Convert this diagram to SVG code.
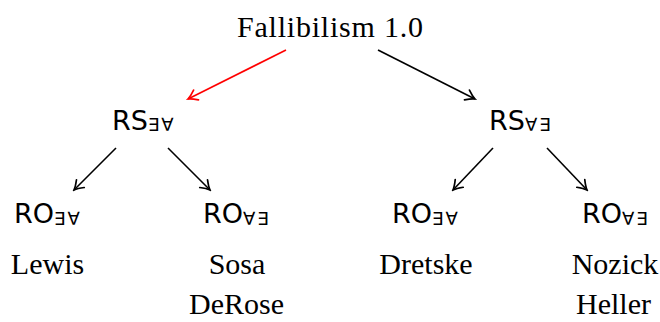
<svg xmlns="http://www.w3.org/2000/svg" width="660" height="322" viewBox="0 0 660 322">
  <style>
    .serif { font-family: "Liberation Serif", "DejaVu Serif", serif; font-size: 30px; fill: #000; }
    .sans { font-family: "DejaVu Sans", "Liberation Sans", sans-serif; font-size: 27px; fill: #000; }
    .sub { font-size: 18px; letter-spacing: 2px; }
    .edge { stroke: #000; stroke-width: 1.6; fill: none; marker-end: url(#arrow); }
    .edge.red { stroke: #ff0000; marker-end: url(#arrowRed); }
  </style>
  <defs>
    <marker id="arrow" markerUnits="userSpaceOnUse" viewBox="-11 -7 13 14" refX="0" refY="0" markerWidth="13" markerHeight="14" orient="auto">
      <path d="M-9,-5.5 Q-3.5,-1.3 0,0 Q-3.5,1.3 -9,5.5" fill="none" stroke="#000" stroke-width="1.7" stroke-linecap="round"/>
    </marker>
    <marker id="arrowRed" markerUnits="userSpaceOnUse" viewBox="-11 -7 13 14" refX="0" refY="0" markerWidth="13" markerHeight="14" orient="auto">
      <path d="M-9,-5.5 Q-3.5,-1.3 0,0 Q-3.5,1.3 -9,5.5" fill="none" stroke="#ff0000" stroke-width="1.7" stroke-linecap="round"/>
    </marker>
  </defs>

  <g id="connectors">
    <line class="edge red" x1="286" y1="50" x2="188" y2="99"/>
    <line class="edge" x1="378" y1="50" x2="475" y2="99"/>
    <line class="edge" x1="116" y1="148" x2="74" y2="190"/>
    <line class="edge" x1="168" y1="148" x2="210" y2="190"/>
    <line class="edge" x1="493" y1="148" x2="453" y2="190"/>
    <line class="edge" x1="547" y1="148" x2="587" y2="190"/>
  </g>

  <g id="root">
    <text class="serif" x="330" y="37" text-anchor="middle" textLength="186">Fallibilism 1.0</text>
  </g>

  <g id="rs-ea">
    <text class="sans" x="112" y="130">RS<tspan class="sub" dy="1">∃∀</tspan></text>
  </g>
  <g id="rs-ae">
    <text class="sans" x="489" y="130">RS<tspan class="sub" dy="1">∀∃</tspan></text>
  </g>

  <g id="ro-lewis">
    <text class="sans" x="14" y="223">RO<tspan class="sub" dy="2">∃∀</tspan></text>
    <text class="serif" x="47.5" y="274" text-anchor="middle">Lewis</text>
  </g>
  <g id="ro-sosa">
    <text class="sans" x="203" y="223">RO<tspan class="sub" dy="2">∀∃</tspan></text>
    <text class="serif" x="237" y="274" text-anchor="middle">Sosa</text>
    <text class="serif" x="236.5" y="314" text-anchor="middle">DeRose</text>
  </g>
  <g id="ro-dretske">
    <text class="sans" x="392" y="223">RO<tspan class="sub" dy="2">∃∀</tspan></text>
    <text class="serif" x="426" y="274" text-anchor="middle">Dretske</text>
  </g>
  <g id="ro-nozick">
    <text class="sans" x="582" y="223">RO<tspan class="sub" dy="2">∀∃</tspan></text>
    <text class="serif" x="615" y="274" text-anchor="middle">Nozick</text>
    <text class="serif" x="613.5" y="314" text-anchor="middle">Heller</text>
  </g>
</svg>
